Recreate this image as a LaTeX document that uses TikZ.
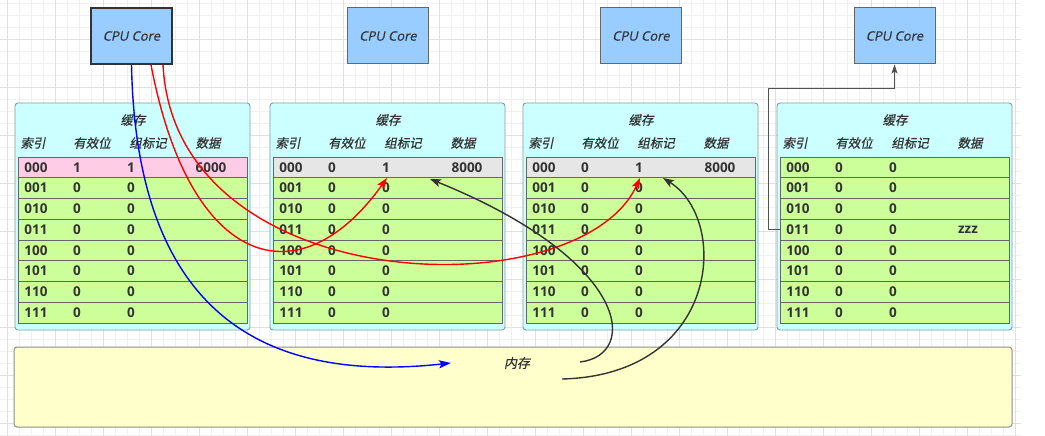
\documentclass[tikz,border=0pt]{standalone}
\usepackage{fontspec}
\setmainfont{Open Sans}
\newfontfamily\cjk{Noto Sans CJK SC}[FakeSlant=0.2,FakeBold=0.6]
\newfontfamily\digitfont{Open Sans}
\newfontfamily\cpufont{Open Sans}[FakeSlant=0.2,FakeBold=0.5]
\usetikzlibrary{arrows.meta}
\definecolor{gridminor}{HTML}{F0F0F0}
\definecolor{gridmajor}{HTML}{E0E0E0}
\definecolor{cpufill}{HTML}{99CCFF}
\definecolor{panelfill}{HTML}{CCFFFF}
\definecolor{panelline}{HTML}{7F9F9F}
\definecolor{greenfill}{HTML}{CCFF99}
\definecolor{pinkfill}{HTML}{FFCCE6}
\definecolor{grayfill}{HTML}{E6E6E6}
\definecolor{rowline}{HTML}{666666}
\definecolor{memfill}{HTML}{FFFFCC}
\definecolor{memline}{HTML}{8C8C8C}
\definecolor{txt}{HTML}{333333}
\definecolor{darkarrow}{HTML}{333333}
\tikzset{
  cpubox/.style={draw=#1, fill=cpufill, minimum width=81pt, minimum height=56pt, inner sep=0pt, font=\cpufont\fontsize{13}{15}\selectfont, text=txt},
  panelbox/.style={draw=panelline, line width=0.9pt, fill=panelfill, rounded corners=3pt, minimum width=235pt, minimum height=227pt, inner sep=0pt},
  cell/.style={draw=rowline, line width=0.9pt, fill=#1, minimum width=229pt, minimum height=20.75pt, inner sep=0pt, outer sep=0pt},
  cjktext/.style={font=\cjk\fontsize{12.5}{14}\selectfont, text=txt, inner sep=0pt},
  digit/.style={font=\digitfont\bfseries\fontsize{13.5}{15}\selectfont, text=txt, inner sep=0pt},
  membox/.style={draw=memline, line width=1pt, fill=memfill, rounded corners=3pt, minimum width=998pt, minimum height=80pt, inner sep=0pt},
  redarrow/.style={draw=red, line width=1.4pt, -{Stealth[length=11pt,width=8pt,inset=2.5pt]}},
  bluearrow/.style={draw=blue, line width=1.4pt, -{Stealth[length=12pt,width=8pt,inset=2.5pt]}},
  grayarrow/.style={draw=darkarrow, line width=1.4pt, -{Stealth[length=11pt,width=8pt,inset=2.5pt]}},
  linkarrow/.style={draw=darkarrow!85, line width=0.9pt, -{Stealth[length=9pt,width=6pt,inset=2pt]}}
}
\begin{document}
\begin{tikzpicture}[x=1pt,y=-1pt]
\useasboundingbox (0,0) rectangle (1045,436);
\fill[white] (0,0) rectangle (1045,436);
% grid
\foreach \x in {7,19,...,1015} \draw[gridminor, line width=0.8pt] (\x,0) -- (\x,436);
\foreach \y in {3,15,...,435} \draw[gridminor, line width=0.8pt] (0,\y) -- (1021,\y);
\foreach \x in {7,55,...,1015} \draw[gridmajor, line width=0.8pt] (\x,0) -- (\x,436);
\foreach \y in {39,87,...,435} \draw[gridmajor, line width=0.8pt] (0,\y) -- (1021,\y);

% CPU cores
\node[cpubox=txt, line width=1.6pt] (cpu1) at (131.5,36) {CPU Core};
\node[cpubox=rowline, line width=1pt] (cpu2) at (388,36) {CPU Core};
\node[cpubox=rowline, line width=1pt] (cpu3) at (641,36) {CPU Core};
\node[cpubox=rowline, line width=1pt] (cpu4) at (894.5,36) {CPU Core};

% memory
\node[membox] (mem) at (513,387) {};
\node[cjktext, font=\cjk\fontsize{13}{15}\selectfont] (memlabel) at (517,363) {内存};

% cache panels
\foreach \p/\L in {1/15,2/270,3/523,4/777} {
  \node[panelbox] (panel\p) at (\L+117.5,216.5) {};
  \node[cjktext] (title\p) at (\L+118,120) {缓存};
  \node[cjktext] (hidx\p) at (\L+18,143) {索引};
  \node[cjktext] (hval\p) at (\L+77,143) {有效位};
  \node[cjktext] (htag\p) at (\L+133,143) {组标记};
  \node[cjktext] (hdat\p) at (\L+193,143) {数据};
  \foreach \r/\idx in {1/001,2/010,3/011,4/100,5/101,6/110,7/111} {
    \node[cell=greenfill] (p\p r\r) at (\L+117.5,167.375+20.75*\r) {};
    \node[digit] (p\p r\r i) at (\L+21,167.375+20.75*\r) {\idx};
    \node[digit] (p\p r\r v) at (\L+62,167.375+20.75*\r) {0};
    \node[digit] (p\p r\r t) at (\L+116,167.375+20.75*\r) {0};
  }
}
% first rows
\node[cell=pinkfill] (p1r0) at (132.5,167.375) {};
\node[digit] (p1r0i) at (36,167.375) {000};
\node[digit] (p1r0v) at (77,167.375) {1};
\node[digit] (p1r0t) at (131,167.375) {1};
\node[digit] (p1r0d) at (211,167.375) {6000};

\node[cell=grayfill] (p2r0) at (387.5,167.375) {};
\node[digit] (p2r0i) at (291,167.375) {000};
\node[digit] (p2r0v) at (332,167.375) {0};
\node[digit] (p2r0t) at (386,167.375) {1};
\node[digit] (p2r0d) at (467,167.375) {8000};

\node[cell=grayfill] (p3r0) at (640.5,167.375) {};
\node[digit] (p3r0i) at (544,167.375) {000};
\node[digit] (p3r0v) at (585,167.375) {0};
\node[digit] (p3r0t) at (639,167.375) {1};
\node[digit] (p3r0d) at (720,167.375) {8000};

\node[cell=greenfill] (p4r0) at (894.5,167.375) {};
\node[digit] (p4r0i) at (798,167.375) {000};
\node[digit] (p4r0v) at (839,167.375) {0};
\node[digit] (p4r0t) at (893,167.375) {0};
\node[digit] (p4r3d) at (968,229.625) {zzz};

% connector end points
\coordinate (memin) at (451,363);
\coordinate (tagtwo) at (387,178);
\coordinate (tagthree) at (640,178);
\coordinate (dattwo) at (430,179);
\coordinate (datthree) at (663,178);
\coordinate (memoutA) at (580,362);
\coordinate (memoutB) at (562,379);

% connectors
\draw[bluearrow] (cpu1.south) .. controls (136,300) and (250,385) .. (memin);
\draw[redarrow] ([xshift=31.5pt]cpu1.south) .. controls (175,300) and (580,310) .. (tagthree);
\draw[redarrow] ([xshift=19.5pt]cpu1.south) .. controls (190,270) and (300,300) .. (tagtwo);
\draw[grayarrow] (memoutA) .. controls (640,355) and (630,260) .. (dattwo);
\draw[grayarrow] (memoutB) .. controls (720,375) and (730,220) .. (datthree);
\draw[linkarrow] (p4r3.west) -- (768,229.625) |- (894.5,88) -- (cpu4.south);
\end{tikzpicture}
\end{document}
